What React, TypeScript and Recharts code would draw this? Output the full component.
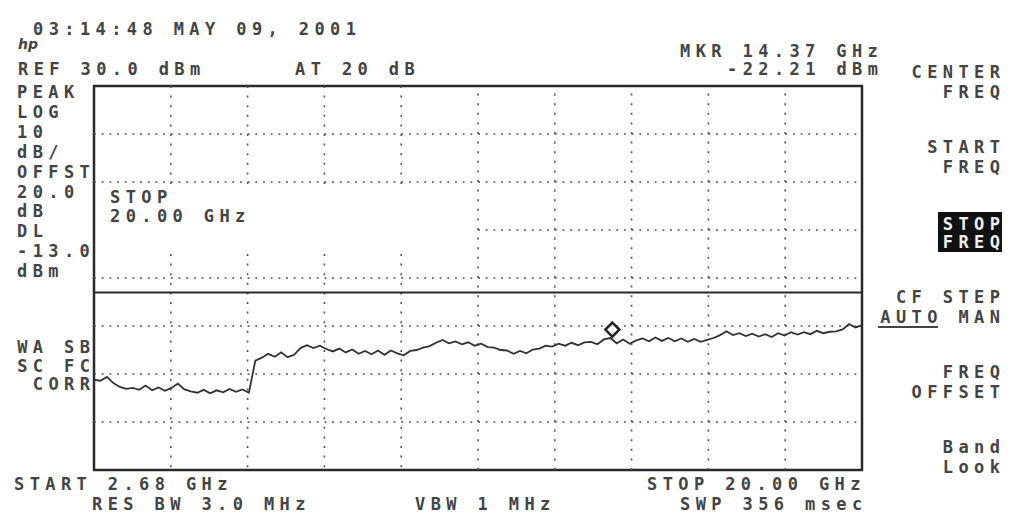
import React from 'react';
import { LineChart, Line, XAxis, YAxis, ReferenceLine, ReferenceArea, ReferenceDot } from 'recharts';

const START_GHZ = 2.68;
const STOP_GHZ = 20.0;
const REF_DBM = 30;
const BOTTOM_DBM = -50;
const DL_DBM = -13;
const MARKER_GHZ = 14.37;
const MARKER_DBM = -22.21;

// trace amplitude (dBm), evenly spaced sweep points
const traceDbm = [
  -31.2, -31.4, -30.6, -31.9, -32.7, -33.1, -32.9, -33.3, -32.4, -33.4,
  -32.8, -33.5, -32.9, -32.0, -33.2, -33.6, -33.9, -33.3, -34.0, -33.4,
  -33.8, -33.1, -33.7, -33.2, -33.9, -27.2, -26.6, -25.8, -26.4, -25.5,
  -26.5, -26.0, -24.6, -24.0, -24.6, -24.1, -24.8, -25.3, -24.7, -25.5,
  -24.9, -25.8, -25.2, -25.9, -25.1, -26.0, -25.1, -25.7, -26.1, -25.2,
  -25.0, -24.5, -24.2, -23.5, -22.9, -23.6, -23.2, -23.8, -23.4, -24.1,
  -23.7, -24.4, -24.5, -25.0, -25.1, -25.8, -25.2, -25.7, -24.9, -24.7,
  -24.1, -24.3, -23.7, -24.1, -23.5, -24.0, -23.4, -23.3, -23.8, -22.8,
  -22.5, -23.6, -22.8, -23.7, -23.0, -22.6, -23.2, -22.4, -23.1, -22.5,
  -23.2, -22.6, -23.3, -22.7, -23.3, -22.9, -22.5, -21.9, -21.1, -21.9,
  -21.5, -22.1, -21.6, -22.2, -21.7, -22.3, -21.5, -22.0, -21.3, -21.8,
  -21.3, -21.7, -21.0, -21.5, -21.2, -21.1, -20.7, -19.6, -20.3, -19.8,
];

const hGridDbm = [20, 10, 0, -10, -20, -30, -40];
const vGridDivs = [1, 2, 3, 4, 5, 6, 7, 8, 9];

const headerLines = [
  { t: '03:14:48 MAY 09, 2001', x: 33, y: 35 },
  { t: 'REF 30.0 dBm', x: 18, y: 75 },
  { t: 'AT 20 dB', x: 295, y: 75 },
  { t: 'MKR 14.37 GHz', x: 680, y: 57 },
  { t: '-22.21 dBm', x: 727, y: 75 },
];
const leftLabels = ['PEAK', 'LOG', '10', 'dB/', 'OFFST', '20.0', 'dB', 'DL', '-13.0', 'dBm'];
const leftLower = [
  { t: 'WA SB', y: 353 }, { t: 'SC FC', y: 372 }, { t: 'CORR', y: 390 },
];
const footerLines = [
  { t: 'START 2.68 GHz', x: 14, y: 490 },
  { t: 'STOP 20.00 GHz', x: 647, y: 490 },
  { t: 'RES BW 3.0 MHz', x: 92, y: 510 },
  { t: 'VBW 1 MHz', x: 415, y: 510 },
  { t: 'SWP 356 msec', x: 680, y: 510 },
];
const softKeys = [
  { t: 'CENTER', y: 78 }, { t: 'FREQ', y: 98 },
  { t: 'START', y: 153 }, { t: 'FREQ', y: 173 },
  { t: 'CF STEP', y: 303 }, { t: 'AUTO MAN', y: 323 },
  { t: 'FREQ', y: 378 }, { t: 'OFFSET', y: 398 },
  { t: 'Band', y: 453 }, { t: 'Look', y: 473 },
];

const W = 1017;
const H = 529;
const FONT = "'DejaVu Sans Mono', monospace";
const INK = '#444';
const LS = 5.4;

const data = traceDbm.map((v, i) => ({
  f: START_GHZ + (i * (STOP_GHZ - START_GHZ)) / (traceDbm.length - 1),
  v,
}));
const divGhz = (STOP_GHZ - START_GHZ) / 10;

const T = ({ x, y, t, anchor = 'start', fill = INK }: any) => (
  <text x={anchor === 'end' ? x + LS : x} y={y} textAnchor={anchor} fontFamily={FONT} fontSize={17}
    fontWeight="bold" letterSpacing={LS} fill={fill} style={{ whiteSpace: 'pre' }}>{t}</text>
);

const Diamond = (p: any) => {
  const { cx, cy } = p;
  const c = cy - 7;
  return <path d={`M ${cx} ${c - 7} L ${cx + 7} ${c} L ${cx} ${c + 7} L ${cx - 7} ${c} Z`}
    fill="#fff" stroke="#222" strokeWidth={2.5} />;
};

export default function App() {
  return (
    <div style={{ position: 'absolute', left: 0, top: 0, width: W, height: H, background: '#fff' }}>
      <div style={{ position: 'absolute', left: 0, top: 0 }}>
        <LineChart width={W} height={H} data={data} margin={{ top: 86, left: 94, right: W - 862, bottom: H - 470 }}>
          <XAxis dataKey="f" type="number" domain={[START_GHZ, STOP_GHZ]} hide />
          <YAxis type="number" domain={[BOTTOM_DBM, REF_DBM]} hide allowDataOverflow />
          {hGridDbm.map((d) => (
            <ReferenceLine key={'h' + d}
              segment={[{ x: d === 0 ? START_GHZ + 5 * divGhz : START_GHZ, y: d }, { x: STOP_GHZ, y: d }]}
              stroke="#555" strokeWidth={1.6} strokeDasharray="2 5.68" />
          ))}
          {vGridDivs.map((k) => k < 5 ? (
            <React.Fragment key={'v' + k}>
              <ReferenceLine segment={[{ x: START_GHZ + k * divGhz, y: REF_DBM }, { x: START_GHZ + k * divGhz, y: 9.5 }]}
                stroke="#555" strokeWidth={1.6} strokeDasharray="2 7.6" />
              <ReferenceLine segment={[{ x: START_GHZ + k * divGhz, y: -5 }, { x: START_GHZ + k * divGhz, y: BOTTOM_DBM }]}
                stroke="#555" strokeWidth={1.6} strokeDasharray="2 7.6" />
            </React.Fragment>
          ) : (
            <ReferenceLine key={'v' + k} x={START_GHZ + k * divGhz}
              stroke="#555" strokeWidth={1.6} strokeDasharray="2 7.6" />
          ))}
          <ReferenceLine y={DL_DBM} stroke="#2a2a2a" strokeWidth={2} />
          <ReferenceArea x1={START_GHZ} x2={STOP_GHZ} y1={BOTTOM_DBM} y2={REF_DBM}
            fill="none" fillOpacity={0} stroke="#2a2a2a" strokeWidth={2.5} />
          <Line dataKey="v" type="linear" stroke="#333" strokeWidth={1.8} dot={false} isAnimationActive={false} />
          <ReferenceDot x={MARKER_GHZ} y={MARKER_DBM} shape={Diamond} />
        </LineChart>
      </div>
      <svg width={W} height={H} style={{ position: 'absolute', left: 0, top: 0, pointerEvents: 'none' }}>
        <text x={18} y={49} fontFamily="'DejaVu Sans', sans-serif" fontStyle="italic" fontWeight="bold" fontSize={14} fill={INK}>hp</text>
        {headerLines.map((l, i) => <T key={'hd' + i} x={l.x} y={l.y} t={l.t} />)}
        {leftLabels.map((t, i) => <T key={'ll' + i} x={17} y={98 + i * 19.9} t={t} />)}
        {leftLower.map((l, i) => <T key={'lw' + i} x={90} y={l.y} t={l.t} anchor="end" />)}
        <T x={110} y={203} t="STOP" />
        <T x={110} y={222} t="20.00 GHz" />
        {footerLines.map((l, i) => <T key={'ft' + i} x={l.x} y={l.y} t={l.t} />)}
        {softKeys.map((l, i) => <T key={'sk' + i} x={1000} y={l.y} t={l.t} anchor="end" />)}
        <rect x={938} y={212} width={64} height={40} fill="#111" />
        <T x={1000} y={230} t="STOP" anchor="end" fill="#eee" />
        <T x={1000} y={248} t="FREQ" anchor="end" fill="#eee" />
        <line x1={878} y1={327} x2={938} y2={327} stroke={INK} strokeWidth={2} />
      </svg>
    </div>
  );
}
